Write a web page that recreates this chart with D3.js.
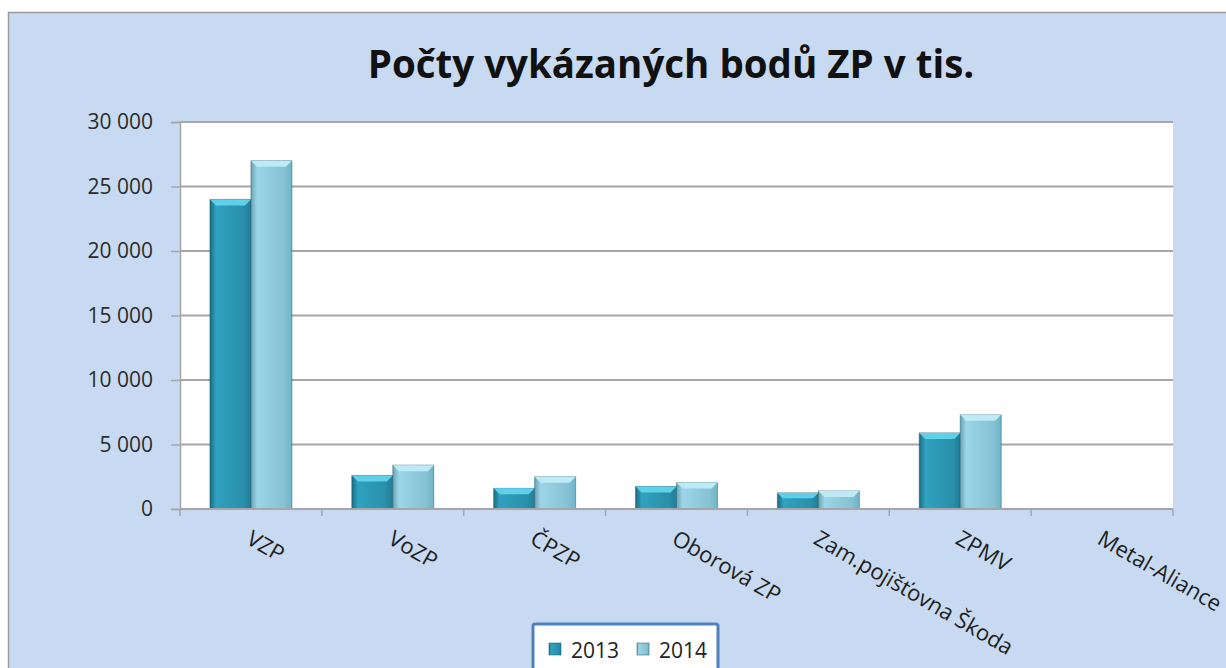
<!DOCTYPE html>
<html>
<head>
<meta charset="utf-8">
<script src="https://cdn.jsdelivr.net/npm/d3@7"></script>
<style>
  body { margin: 0; background: #fff; }
  svg { display: block; font-family: "Open Sans", sans-serif; }
</style>
</head>
<body>
<div id="root"></div>
<script>
const categories = ['VZP', 'VoZP', 'ČPZP', 'Oborová ZP', 'Zam.pojišťovna Škoda', 'ZPMV', 'Metal-Aliance'];
const years = ['2013', '2014'];
const values2013 = [24000, 2600, 1600, 1750, 1250, 5900, 0];
const values2014 = [27000, 3400, 2500, 2050, 1400, 7300, 0];
const yTicks = [0, 5000, 10000, 15000, 20000, 25000, 30000];

const W = 1226, H = 668;
const plot = { left: 180, right: 1173, top: 122, bottom: 509 };

const svg = d3.select('#root').append('svg').attr('width', W).attr('height', H);
const defs = svg.append('defs');

// bar gradients (a flat imitation of the Excel bevel)
const grads = {
  '2013': ['#1f7f99', '#2fa2c0', '#2a90ab', '#1b6b82'],
  '2014': ['#6fb4c8', '#9bd6e8', '#86c2d4', '#6aa2b3']
};
Object.entries(grads).forEach(([k, c]) => {
  const g = defs.append('linearGradient').attr('id', 'g' + k).attr('x1', 0).attr('x2', 1);
  g.append('stop').attr('offset', '0%').attr('stop-color', c[3]);
  g.append('stop').attr('offset', '15%').attr('stop-color', c[1]);
  g.append('stop').attr('offset', '80%').attr('stop-color', c[2]);
  g.append('stop').attr('offset', '100%').attr('stop-color', c[0]);
});
const topCol = { '2013': '#5fd0ea', '2014': '#bdeaf5' };

// chart area
svg.append('rect').attr('x', 8.5).attr('y', 12.5).attr('width', W + 10).attr('height', H + 10)
  .attr('fill', '#c8daf1').attr('stroke', '#9a9a9a').attr('stroke-width', 1.5);

svg.append('text').attr('x', 671).attr('y', 78).attr('text-anchor', 'middle')
  .attr('font-size', 38.5).attr('font-weight', 'bold').attr('fill', '#111')
  .text('Počty vykázaných bodů ZP v tis.');

svg.append('rect').attr('x', plot.left).attr('y', plot.top)
  .attr('width', plot.right - plot.left).attr('height', plot.bottom - plot.top).attr('fill', '#fff');

const y = d3.scaleLinear().domain([0, 30000]).range([plot.bottom, plot.top]);
const x = d3.scaleBand().domain(categories).range([plot.left, plot.right]).paddingInner(0).paddingOuter(0);
const xs = d3.scaleBand().domain(years).range([0, x.bandwidth()]).paddingOuter(0.73);

const fmt = d3.formatLocale({ decimal: ',', thousands: ' ', grouping: [3], currency: ['', ''] }).format(',d');

// gridlines
svg.append('g').selectAll('line').data(yTicks.filter(d => d > 0)).join('line')
  .attr('x1', plot.left).attr('x2', plot.right)
  .attr('y1', d => y(d)).attr('y2', d => y(d))
  .attr('stroke', '#a6a6a6').attr('stroke-width', 2);

// y axis
const ya = svg.append('g').attr('transform', `translate(${plot.left},0)`)
  .call(d3.axisLeft(y).tickValues(yTicks).tickFormat(fmt).tickSize(9).tickPadding(18));
ya.select('.domain').attr('stroke', '#a6a6a6').attr('stroke-width', 1.5);
ya.selectAll('.tick line').attr('stroke', '#a6a6a6').attr('stroke-width', 1.5);
ya.selectAll('text').attr('font-size', 21).attr('fill', '#2a2a2a').attr('font-family', '"Open Sans", sans-serif');

// bars
const series = [values2013, values2014];
const rows = [];
categories.forEach((c, i) => years.forEach((yr, j) => rows.push({ c, yr, v: series[j][i] })));
const bars = svg.append('g').selectAll('g').data(rows.filter(d => d.v > 0)).join('g')
  .attr('transform', d => `translate(${x(d.c) + xs(d.yr)},0)`);
bars.append('rect').attr('x', 0).attr('y', d => y(d.v))
  .attr('width', xs.bandwidth()).attr('height', d => y(0) - y(d.v))
  .attr('fill', d => `url(#g${d.yr})`).attr('stroke', '#1b5566').attr('stroke-opacity', 0.45);
bars.append('path')
  .attr('d', d => {
    const t = y(d.v), w = xs.bandwidth(), b = Math.min(6, (y(0) - t) / 3);
    return `M0,${t}L${w},${t}L${w - b},${t + b}L${b},${t + b}Z`;
  })
  .attr('fill', d => topCol[d.yr]);

// x axis
const xa = svg.append('g').attr('transform', `translate(0,${plot.bottom})`);
xa.append('line').attr('x1', plot.left).attr('x2', plot.right).attr('stroke', '#a6a6a6').attr('stroke-width', 2);
xa.selectAll('.tk').data(categories.map(c => x(c)).concat([plot.right])).join('line')
  .attr('x1', d => d).attr('x2', d => d).attr('y1', 0).attr('y2', 7)
  .attr('stroke', '#a6a6a6').attr('stroke-width', 1.5);
xa.selectAll('text').data(categories).join('text')
  .attr('transform', d => `translate(${x(d) + x.bandwidth() / 2 - 6},${34}) rotate(30)`)
  .attr('font-size', 22).attr('fill', '#1e1e1e')
  .text(d => d);

// legend
const lg = svg.append('g').attr('transform', 'translate(533,624)');
lg.append('rect').attr('x', 0).attr('y', 0).attr('width', 185).attr('height', 60)
  .attr('fill', '#fff').attr('stroke', '#4f81bd').attr('stroke-width', 3).attr('rx', 2);
years.forEach((yr, i) => {
  const g = lg.append('g').attr('transform', `translate(${16 + i * 88},14)`);
  g.append('rect').attr('width', 12).attr('height', 12).attr('y', 5).attr('fill', `url(#g${yr})`)
    .attr('stroke', '#1b5566').attr('stroke-opacity', 0.5);
  g.append('text').attr('x', 22).attr('y', 20).attr('font-size', 21).attr('fill', '#222').text(yr);
});
</script>
</body>
</html>
